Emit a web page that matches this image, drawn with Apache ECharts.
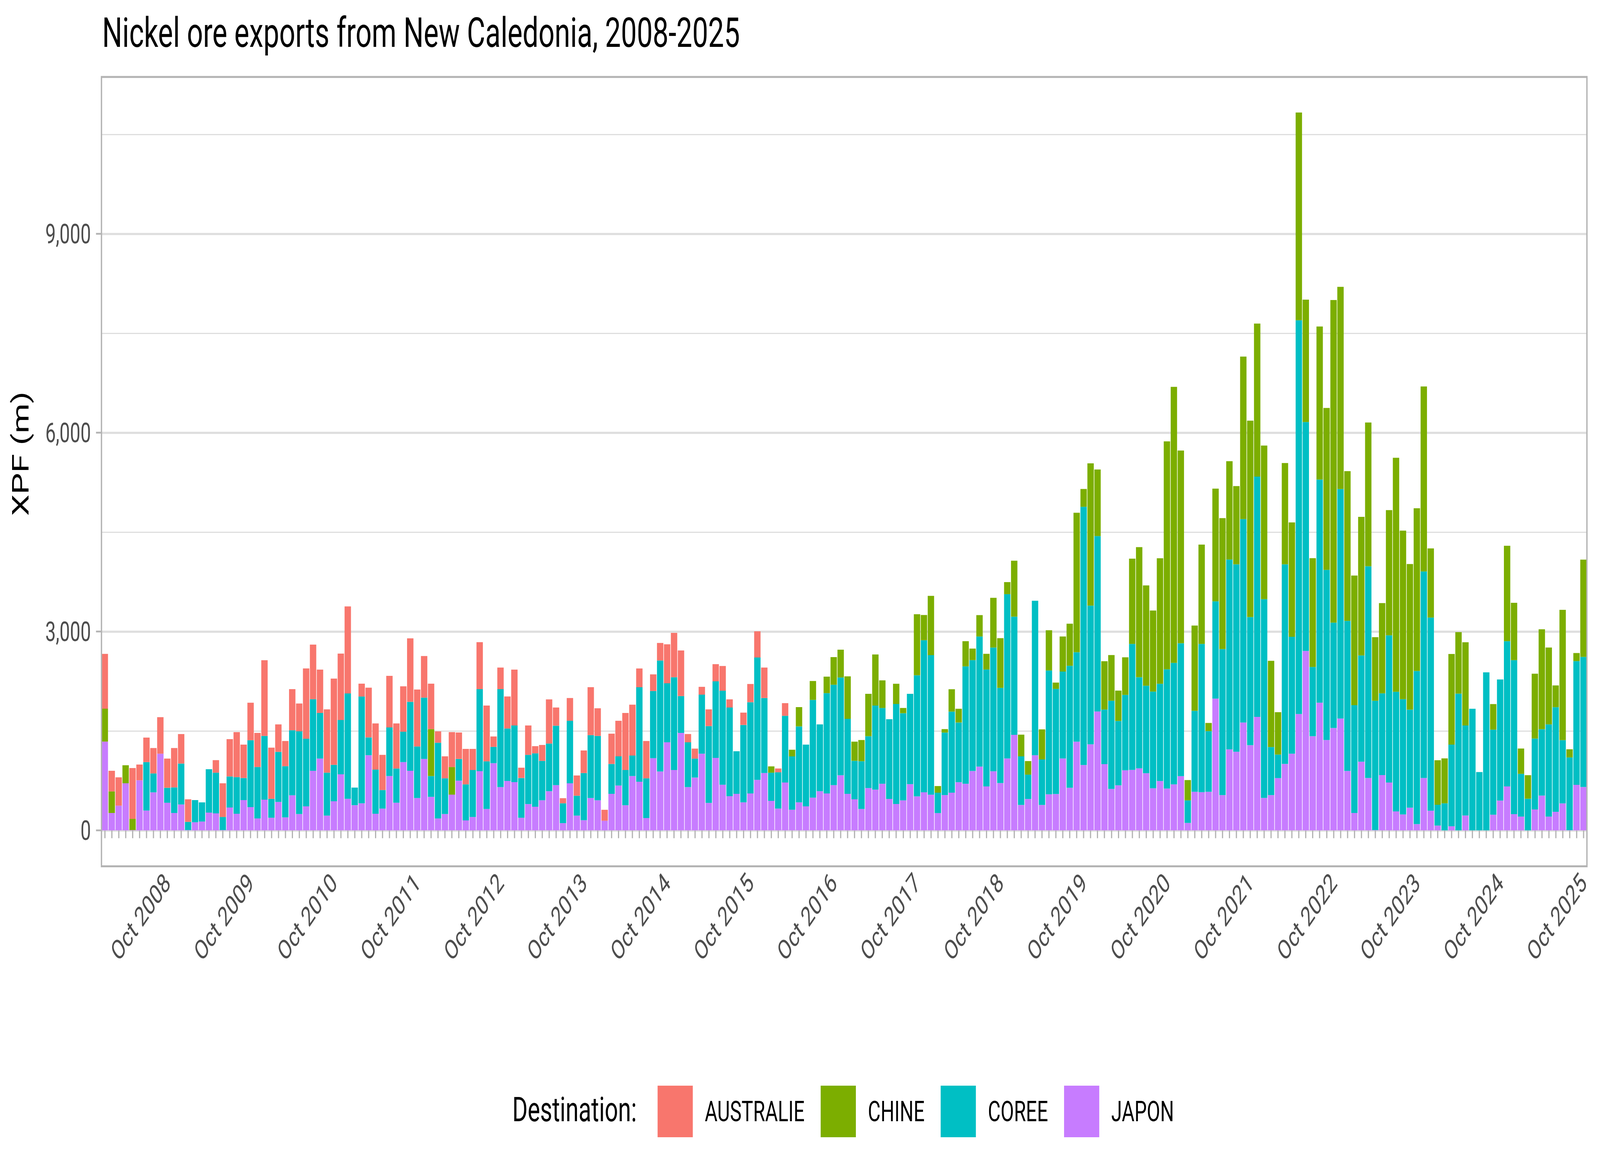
<!DOCTYPE html>
<html>
<head>
<meta charset="utf-8">
<script src="https://cdn.jsdelivr.net/npm/echarts@6/dist/echarts.min.js"></script>
<style>
html,body{margin:0;padding:0;background:#ffffff;overflow:hidden;}
#wrap{width:6000px;height:3000px;transform-origin:0 0;}
#chart{width:6000px;height:3000px;}
</style>
</head>
<body>
<div id="wrap"><div id="chart"></div></div>
<script>
// ---- categories (monthly, Jan 2008 .. Oct 2025) ----
const START_YEAR = 2008;
const MONTH_NAMES = ['Jan','Feb','Mar','Apr','May','Jun','Jul','Aug','Sep','Oct','Nov','Dec'];
const N_MONTHS = 214;
const categories = [];
for (let i = 0; i < N_MONTHS; i++) {
  categories.push(MONTH_NAMES[i % 12] + ' ' + (START_YEAR + Math.floor(i / 12)));
}

// ---- series values, XPF millions (rows = years 2008..2025) ----
const JAPON = [
  1340,263,374,711,5,757,300,574,1157,417,263,391,
  5,123,134,269,257,5,346,251,457,351,180,463,
  191,429,197,529,246,363,900,1083,223,440,846,477,
  380,409,1134,251,329,820,417,1031,900,489,1077,506,
  180,246,540,751,151,203,894,323,1014,654,746,729,
  191,397,357,454,591,683,109,711,223,154,489,454,
  146,551,677,380,820,734,186,1089,889,1329,911,1471,
  654,797,1157,414,1094,689,517,551,423,557,763,866,
  446,329,723,311,423,363,494,591,557,683,831,551,
  469,323,639,615,703,475,399,453,697,514,575,539,
  262,533,569,727,703,896,963,663,892,714,1085,1441,
  383,474,1133,383,545,549,1085,643,1338,987,1299,1794,
  1000,626,680,907,912,936,862,636,744,631,695,818,
  113,582,577,582,1988,533,1222,1187,1627,1286,1713,490,
  533,789,1002,1158,1755,2707,1421,1926,1364,1545,1687,897,
  263,1037,790,5,835,723,286,241,342,95,790,297,
  73,0,62,0,225,0,0,0,237,450,663,245,
  209,0,316,525,209,280,407,4,687,655
];
const COREE = [
  0,0,0,0,0,0,731,286,0,226,386,618,
  124,334,289,654,614,198,468,552,334,1009,777,963,
  286,757,772,982,1248,1020,1080,688,648,549,820,1589,
  266,1611,269,666,280,734,517,458,1040,777,926,314,
  1143,540,0,326,543,708,1237,720,246,1477,791,854,
  600,743,806,595,720,897,300,943,300,712,948,972,
  0,452,440,531,309,1426,600,1014,1674,891,1400,555,
  675,286,891,1160,1155,1419,1337,643,1168,1377,1845,1131,
  425,548,1006,806,1146,931,1475,1009,1514,1514,1475,1132,
  581,721,782,1269,1144,1202,1509,1315,1363,1826,2295,2105,
  307,943,1223,901,1771,1673,1962,1764,1867,1437,2479,1784,
  734,367,2332,687,1867,1586,1311,1840,1350,3895,2092,2646,
  823,1330,971,1138,1902,1375,1321,1458,1469,1799,1833,2006,
  340,1222,2237,916,1468,2203,2864,2828,3070,1933,3624,2999,
  725,355,3013,1763,5941,3454,1045,3368,2566,1589,3464,2264,
  1626,1603,3195,1951,1233,2220,1805,1738,1480,2310,3117,2915,
  314,409,1233,2064,1358,1835,880,2384,1283,1827,2191,2324,
  644,478,1069,1002,1390,1579,955,1097,1867,1962
];
const CHINE = [
  497,326,0,272,169,0,0,0,0,0,0,0,
  0,0,0,0,0,0,0,0,0,0,0,0,
  0,0,0,0,0,0,0,0,0,0,0,0,
  0,0,0,0,0,0,0,0,0,0,0,709,
  0,0,417,0,0,0,0,0,0,0,0,0,
  0,0,0,0,0,0,0,0,0,0,0,0,
  0,0,0,0,0,0,0,0,0,0,0,0,
  0,0,0,0,0,0,0,0,0,0,0,0,
  95,0,0,100,291,0,285,0,249,417,420,642,
  289,319,639,770,417,0,304,79,0,922,380,895,
  100,52,338,207,380,174,323,237,750,750,182,844,
  328,205,0,454,608,95,529,635,2104,269,2147,1005,
  730,690,458,567,1286,1962,1513,1223,1892,3439,4164,2907,
  306,1286,1498,123,1700,1975,1485,1179,2452,2963,2309,2317,
  1300,640,1528,1726,3134,1847,1641,2309,2444,4867,3049,2259,
  1956,2091,2169,959,1362,1889,3531,2544,2197,2455,2791,1042,
  672,678,1367,928,1255,0,0,0,386,0,1440,865,
  382,355,979,1508,1160,328,1965,123,122,1468
];
const AUSTRALIE = [
  826,311,426,0,766,237,369,383,551,440,594,445,
  340,0,0,0,189,508,563,680,503,566,514,1142,
  772,414,380,620,420,1060,823,655,955,1302,1002,1314,
  0,194,751,697,531,777,680,685,957,860,628,685,
  171,331,526,400,535,318,709,840,157,326,483,843,
  155,443,108,240,666,274,77,343,306,340,723,417,
  165,457,537,860,768,283,563,251,265,588,669,688,
  125,151,118,252,259,372,123,0,186,275,395,460,
  0,57,191,0,0,0,0,0,0,0,0,0,
  0,0,0,0,0,0,0,0,0,0,0,0,
  0,0,0,0,0,0,0,0,0,0,0,0,
  0,0,0,0,0,0,0,0,0,0,0,0,
  0,0,0,0,0,0,0,0,0,0,0,0,
  0,0,0,0,0,0,0,0,0,0,0,0,
  0,0,0,0,0,0,0,0,0,0,0,0,
  0,0,0,0,0,0,0,0,0,0,0,0,
  0,0,0,0,0,0,0,0,0,0,0,0,
  0,0,0,0,0,0,0,0,0,0
];

// ---- tick labels / legend ----
const Y_TICKS = [0, 3000, 6000, 9000];
const Y_MAX = 11367;
const LEGEND_ORDER = ['AUSTRALIE', 'CHINE', 'COREE', 'JAPON'];
const COLORS = {AUSTRALIE:'#F8766D', CHINE:'#7CAE00', COREE:'#00BFC4', JAPON:'#C77CFF'};
const SERIES_DATA = {JAPON: JAPON, COREE: COREE, CHINE: CHINE, AUSTRALIE: AUSTRALIE};
const STACK_ORDER = ['JAPON', 'COREE', 'CHINE', 'AUSTRALIE']; // bottom -> top

const FONT = 'Roboto';
function fmtThousands(v) {
  return String(v).replace(/\B(?=(\d{3})+(?!\d))/g, ',');
}

// The design is laid out on a 6000x3000 canvas; fit it to the actual window.
(function fitToWindow() {
  const sx = (window.innerWidth || 6000) / 6000;
  const sy = (window.innerHeight || 3000) / 3000;
  document.getElementById('wrap').style.transform = 'scale(' + sx + ',' + sy + ')';
})();

const chart = echarts.init(document.getElementById('chart'), null, {renderer:'svg', width:6000, height:3000});

const option = {
  animation: false,
  backgroundColor: '#ffffff',
  title: {
    text: 'Nickel ore exports from New Caledonia, 2008-2025',
    left: 383, top: 31, padding: 0,
    textStyle: {fontSize: 106, fontWeight: 'normal', color: '#000000', fontFamily: FONT}
  },
  grid: {left: 380, right: 49, top: 197, bottom: 874.4, containLabel: false},
  legend: {
    data: LEGEND_ORDER,
    left: 2461, top: 2774,
    orient: 'horizontal',
    itemWidth: 132, itemHeight: 132, itemGap: 60,
    icon: 'rect',
    selectedMode: false,
    textStyle: {fontSize: 73, color: '#000000', fontFamily: FONT, padding: [0, 0, 0, 40]}
  },
  xAxis: {
    type: 'category',
    data: categories,
    boundaryGap: true,
    offset: 91.8,
    axisLine: {show: false},
    axisTick: {show: true, interval: 0, alignWithLabel: true, length: 20,
               lineStyle: {color: '#B3B3B3', width: 4.5}},
    axisLabel: {interval: 0, rotate: 45, margin: 30, fontSize: 70, color: '#4D4D4D', fontFamily: FONT,
                formatter: function (v) { return v.indexOf('Oct') === 0 ? v : ''; }},
    splitLine: {show: false}
  },
  yAxis: [
    {
      type: 'value', min: 0, max: Y_MAX, interval: 3000, position: 'left',
      axisLine: {show: false},
      axisTick: {show: true, length: 20, customValues: Y_TICKS, lineStyle: {color: '#B3B3B3', width: 4.5}},
      axisLabel: {customValues: Y_TICKS, margin: 39, fontSize: 70, color: '#4D4D4D', fontFamily: FONT,
                  formatter: function (v) { return (v % 3000 === 0) ? fmtThousands(v) : ''; }},
      splitLine: {show: true, lineStyle: {color: '#DEDEDE', width: 5.5}},
      name: 'XPF (m)', nameLocation: 'middle', nameGap: 259,
      nameTextStyle: {fontSize: 88, color: '#000000', fontFamily: FONT}
    },
    {
      type: 'value', min: 0, max: Y_MAX, interval: 1500, position: 'left',
      axisLine: {show: false}, axisTick: {show: false}, axisLabel: {show: false},
      splitLine: {show: true, lineStyle: {color: '#DEDEDE', width: 2.8}}
    }
  ],
  series: STACK_ORDER.map(function (name) {
    return {
      name: name,
      type: 'bar',
      stack: 'total',
      yAxisIndex: 0,
      barCategoryGap: '8%',
      data: SERIES_DATA[name],
      itemStyle: {color: COLORS[name]},
      emphasis: {disabled: true},
      silent: true
    };
  }),
  graphic: [
    {type: 'rect', z: 100, silent: true,
     shape: {x: 380.5, y: 197, width: 5570.5, height: 2020.4},
     style: {fill: 'transparent', stroke: '#B3B3B3', lineWidth: 5}},
    {type: 'text', z: 100, silent: true, x: 1921, y: 2840,
     style: {text: 'Destination:', fontSize: 88, fontFamily: FONT, fill: '#000000',
             verticalAlign: 'middle', align: 'left'}}
  ]
};
chart.setOption(option);
</script>
</body>
</html>
